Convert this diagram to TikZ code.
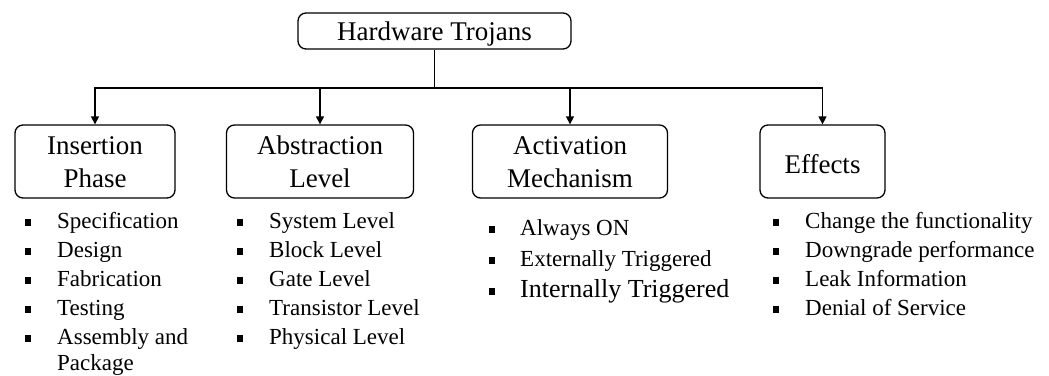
\documentclass[tikz,border=0pt]{standalone}
\usepackage{fontspec}
\setmainfont{Liberation Serif}
\usetikzlibrary{arrows.meta}
\newcommand{\bul}{\makebox[32pt][l]{\raisebox{2.5pt}{\rule{6pt}{6.5pt}}}}
\newcommand{\shiftdn}[1]{\raisebox{-3pt}[\height][\depth]{#1}}
\begin{document}
\begin{tikzpicture}[x=1pt,y=-1pt,
  box/.style={draw,line width=1.3pt,rounded corners=8pt,minimum height=73pt,align=center,inner sep=0pt,font=\fontsize{27}{33}\selectfont},
  conn/.style={line width=1.3pt},
  arr/.style={line width=1.3pt,-{Triangle[length=8pt,width=8pt]}},
  item/.style={anchor=base west,inner sep=0pt,font=\fontsize{23}{29}\selectfont},
  bigitem/.style={anchor=base west,inner sep=0pt,font=\fontsize{26}{30}\selectfont}]
\useasboundingbox[fill=white] (0,0) rectangle (1049,375);
\node[box,minimum height=36pt,minimum width=273pt] (root) at (434.5,31) {\shiftdn{Hardware Trojans}};
\node[box,minimum width=160pt] (b1) at (95,161.5) {\shiftdn{\begin{tabular}{@{}c@{}}Insertion\\Phase\end{tabular}}};
\node[box,minimum width=187pt] (b2) at (320,161.5) {\shiftdn{\begin{tabular}{@{}c@{}}Abstraction\\Level\end{tabular}}};
\node[box,minimum width=195pt] (b3) at (570,161.5) {\shiftdn{\begin{tabular}{@{}c@{}}Activation\\Mechanism\end{tabular}}};
\node[box,minimum width=125pt] (b4) at (822.5,161.5) {\shiftdn{Effects}};
\coordinate (j) at (434.5,88);
\draw[conn] (root.south) -- (j);
\draw[arr] (j) -| (b1.north);
\draw[arr] (j) -| (b2.north);
\draw[arr] (j) -| (b3.north);
\draw[arr] (j) -| (b4.north);
% list 1
\foreach \t [count=\i] in {Specification,Design,Fabrication,Testing,Assembly and}
  \node[item] (a\i) at (25,228+29*\i-29) {\bul\t};
\node[item] (a6) at (57,370) {Package};
% list 2
\foreach \t [count=\i] in {System Level,Block Level,Gate Level,Transistor Level,Physical Level}
  \node[item] (c\i) at (237,228+29*\i-29) {\bul\t};
% list 3
\node[item] (d1) at (489,235) {\makebox[31pt][l]{\raisebox{2.5pt}{\rule{6pt}{6.5pt}}}Always ON};
\node[item] (d2) at (489,266) {\makebox[31pt][l]{\raisebox{2.5pt}{\rule{6pt}{6.5pt}}}Externally Triggered};
\node[bigitem] (d3) at (489,297) {\makebox[31pt][l]{\raisebox{2.5pt}{\rule{6pt}{6.5pt}}}Internally Triggered};
% list 4
\foreach \t [count=\i] in {Change the functionality,Downgrade performance,Leak Information,Denial of Service}
  \node[item] (e\i) at (773,228+29*\i-29) {\bul\t};
\end{tikzpicture}
\end{document}
